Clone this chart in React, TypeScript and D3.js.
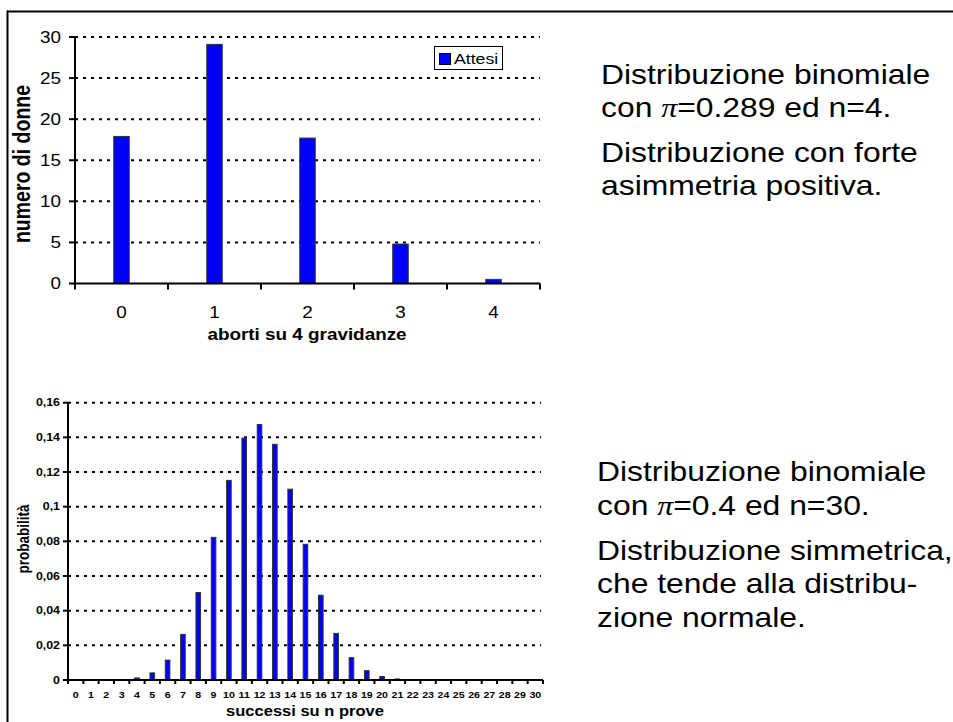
import React from "react";
import * as d3 from "d3";

const topCategories = ["0", "1", "2", "3", "4"];
const topValues = [17.9, 29.1, 17.7, 4.8, 0.5];
const topTicks = [0, 5, 10, 15, 20, 25, 30];
const legendLabel = "Attesi";

const botCategories = Array.from({ length: 31 }, (_, i) => String(i));
const botValues = [
  0, 0, 0, 0.0003, 0.0012, 0.0041, 0.0115, 0.0263, 0.0505, 0.0823, 0.1152,
  0.1396, 0.1474, 0.136, 0.1101, 0.0783, 0.0489, 0.0269, 0.0129, 0.0054,
  0.002, 0.0006, 0.0002, 0, 0, 0, 0, 0, 0, 0, 0,
];
const botTicks = [0, 0.02, 0.04, 0.06, 0.08, 0.1, 0.12, 0.14, 0.16];

const topText = [
  ["Distribuzione binomiale"],
  ["con ", "π", "=0.289 ed n=4."],
  ["Distribuzione con forte"],
  ["asimmetria positiva."],
];
const botText = [
  ["Distribuzione binomiale"],
  ["con ", "π", "=0.4 ed n=30."],
  ["Distribuzione simmetrica,"],
  ["che tende alla distribu-"],
  ["zione normale."],
];

const FONT = "Arial, 'Liberation Sans', Helvetica, sans-serif";
const BLUE = "#0000FF";
const SX = 1.18; // horizontal stretch of the reference's text

function fmtComma(v: number) {
  return String(+v.toFixed(2)).replace(".", ",");
}

type TProps = {
  x: number;
  y: number;
  size: number;
  anchor?: "start" | "middle" | "end";
  bold?: boolean;
  rotate?: boolean;
  dy?: string;
  children: React.ReactNode;
};

function T({ x, y, size, anchor = "start", bold = false, rotate = false, dy = "0.36em", children }: TProps) {
  return (
    <text
      transform={`translate(${x},${y}) scale(${SX},1)${rotate ? " rotate(-90)" : ""}`}
      textAnchor={anchor}
      dy={dy}
      fontSize={size}
      fontWeight={bold ? "bold" : "normal"}
      fontFamily={FONT}
      fill="#000"
    >
      {children}
    </text>
  );
}

export default function App() {
  // top chart scales
  const tx = d3.scaleBand<string>().domain(topCategories).range([75, 540]).padding(0);
  const ty = d3.scaleLinear().domain([0, 30]).range([283.5, 37]);
  const tBarW = 15.5;

  // bottom chart scales
  const bx = d3.scaleBand<string>().domain(botCategories).range([68, 543]).padding(0);
  const by = d3.scaleLinear().domain([0, 0.16]).range([680, 402.7]);
  const bBarW = 4.6;

  const textLine = (parts: string[], x: number, y: number, key: string) => (
    <T key={key} x={x} y={y} size={27} dy="0">
      {parts.map((p, i) =>
        p === "π" ? (
          <tspan key={i} fontFamily="'Liberation Serif', 'DejaVu Serif', serif" fontStyle="italic">
            {p}
          </tspan>
        ) : (
          <tspan key={i}>{p}</tspan>
        )
      )}
    </T>
  );

  const topBaselines = [84, 117, 162, 195];
  const botBaselines = [481, 515, 560, 593, 627];

  return (
    <svg
      width={953}
      height={722}
      style={{ position: "absolute", left: 0, top: 0, background: "#fff" }}
      fontFamily={FONT}
    >
      <rect x={0} y={0} width={953} height={722} fill="#fff" />
      {/* frame */}
      <line x1={7} x2={953} y1={11.5} y2={11.5} stroke="#000" strokeWidth={2} />
      <line x1={7.5} x2={7.5} y1={10.5} y2={722} stroke="#000" strokeWidth={2} />

      {/* ---------- TOP CHART ---------- */}
      {topTicks.filter((t) => t > 0).map((t) => (
        <line key={"tg" + t} x1={75} x2={540} y1={ty(t)} y2={ty(t)} stroke="#000" strokeWidth={2} strokeDasharray="3,5" />
      ))}
      {topCategories.map((c, i) => (
        <rect
          key={"tb" + c}
          x={tx(c)! + tx.bandwidth() / 2 - tBarW / 2}
          y={ty(topValues[i])}
          width={tBarW}
          height={ty(0) - ty(topValues[i])}
          fill={BLUE}
          stroke="#333"
          strokeWidth={1}
        />
      ))}
      <line x1={75} x2={75} y1={ty(30)} y2={ty(0)} stroke="#000" strokeWidth={2} />
      <line x1={74} x2={540} y1={ty(0)} y2={ty(0)} stroke="#000" strokeWidth={2} />
      {topTicks.map((t) => (
        <g key={"tt" + t}>
          <line x1={69} x2={75} y1={ty(t)} y2={ty(t)} stroke="#000" strokeWidth={2} />
          <T x={61} y={ty(t)} size={16} anchor="end">
            {t}
          </T>
        </g>
      ))}
      {[...topCategories.map((c) => tx(c)!), 540].map((x, i) => (
        <line key={"tx" + i} x1={x} x2={x} y1={ty(0)} y2={ty(0) + 6} stroke="#000" strokeWidth={2} />
      ))}
      {topCategories.map((c) => (
        <T key={"tl" + c} x={tx(c)! + tx.bandwidth() / 2} y={312} size={16} anchor="middle">
          {c}
        </T>
      ))}
      <T x={307} y={334} size={16} anchor="middle" bold>
        aborti su 4 gravidanze
      </T>
      <T x={22} y={164} size={19.5} anchor="middle" bold rotate>
        numero di donne
      </T>
      {/* legend */}
      <rect x={434.5} y={46.5} width={68} height={23} fill="#fff" stroke="#000" strokeWidth={1} />
      <rect x={439.5} y={53.5} width={11} height={11} fill={BLUE} stroke="#000" strokeWidth={1} />
      <T x={454} y={59} size={15}>
        {legendLabel}
      </T>

      {/* ---------- BOTTOM CHART ---------- */}
      {botTicks.filter((t) => t > 0).map((t) => (
        <line key={"bg" + t} x1={68} x2={541} y1={by(t)} y2={by(t)} stroke="#000" strokeWidth={2} strokeDasharray="3,5" />
      ))}
      {botCategories.map((c, i) => (
        <rect
          key={"bb" + c}
          x={bx(c)! + bx.bandwidth() / 2 - bBarW / 2}
          y={by(botValues[i])}
          width={bBarW}
          height={by(0) - by(botValues[i])}
          fill={BLUE}
          stroke="#333"
          strokeWidth={1}
        />
      ))}
      <line x1={68} x2={68} y1={by(0.16)} y2={by(0)} stroke="#000" strokeWidth={2} />
      <line x1={67} x2={543} y1={by(0)} y2={by(0)} stroke="#000" strokeWidth={2} />
      {botTicks.map((t) => (
        <g key={"bt" + t}>
          <line x1={63} x2={68} y1={by(t)} y2={by(t)} stroke="#000" strokeWidth={2} />
          <T x={60} y={by(t)} size={10.5} anchor="end" bold>
            {fmtComma(t)}
          </T>
        </g>
      ))}
      {[...botCategories.map((c) => bx(c)!), 543].map((x, i) => (
        <line key={"bx" + i} x1={x} x2={x} y1={by(0)} y2={by(0) + 4} stroke="#000" strokeWidth={2} />
      ))}
      {botCategories.map((c) => (
        <T key={"bl" + c} x={bx(c)! + bx.bandwidth() / 2} y={695} size={9} anchor="middle" bold>
          {c}
        </T>
      ))}
      <T x={305} y={711} size={14} anchor="middle" bold>
        successi su n prove
      </T>
      <T x={23} y={539} size={13.5} anchor="middle" bold rotate>
        probabilità
      </T>

      {/* ---------- TEXT ---------- */}
      {topText.map((parts, i) => textLine(parts, 601, topBaselines[i], "tt" + i))}
      {botText.map((parts, i) => textLine(parts, 597, botBaselines[i], "bt" + i))}
    </svg>
  );
}
